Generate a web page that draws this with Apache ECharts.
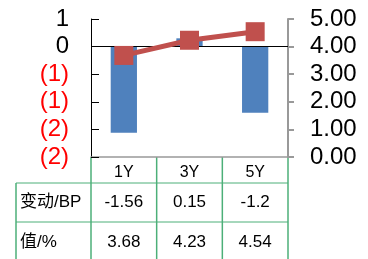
<!DOCTYPE html>
<html>
<head>
<meta charset="utf-8">
<script src="https://cdn.jsdelivr.net/npm/echarts@6/dist/echarts.min.js"></script>
<style>
html, body { margin: 0; padding: 0; background: #fff; }
#main { width: 368px; height: 259px; }
</style>
</head>
<body>
<div id="main"></div>
<script>
var categories = ['1Y', '3Y', '5Y'];
var changeBP = [-1.56, 0.15, -1.2];
var valuePct = [3.68, 4.23, 4.54];
var rowLabels = ['变动/BP', '值/%'];

var FONT = '"Liberation Sans", Arial, "Noto Sans CJK SC", sans-serif';
var GREEN = '#4caf78';

function fmtLeft(v) {
	var r = Math.round(Math.abs(v));
	if (v < 0) {
		return '{neg|(' + r + ')}';
	}
	return String(r);
}

var chart = echarts.init(document.getElementById('main'));
var option = {
	animation: false,
	grid: { left: 91, right: 80, top: 19, bottom: 102 },
	xAxis: [{
		type: 'category',
		data: categories,
		axisLine: { onZero: false, lineStyle: { color: '#999', width: 1.5 } },
		axisTick: { show: false },
		axisLabel: { color: '#000', fontSize: 16, fontFamily: FONT, margin: 8 }
	}],
	yAxis: [{
		type: 'value',
		min: -2,
		max: 0.5,
		interval: 0.5,
		splitLine: { show: false },
		axisLine: { show: true, lineStyle: { color: '#000' } },
		axisTick: { show: true, inside: true, length: 8, lineStyle: { color: '#000' } },
		axisLabel: {
			formatter: fmtLeft,
			color: '#000',
			fontSize: 24,
			fontFamily: FONT,
			margin: 22,
			rich: { neg: { color: '#ff0000', fontSize: 24, fontFamily: FONT } }
		}
	}, {
		type: 'value',
		min: 0,
		max: 5,
		interval: 1,
		splitLine: { show: false },
		axisLine: { show: true, lineStyle: { color: '#999', width: 2 } },
		axisTick: { show: true, length: 6, lineStyle: { color: '#999', width: 2 } },
		axisLabel: {
			formatter: function(v) { return v.toFixed(2); },
			color: '#000',
			fontSize: 24,
			fontFamily: FONT,
			margin: 22
		}
	}],
	series: [{
		name: '变动/BP',
		type: 'bar',
		yAxisIndex: 0,
		data: changeBP,
		barWidth: '40%',
		itemStyle: { color: '#4f81bd' },
		markLine: {
			silent: true,
			symbol: 'none',
			label: { show: false },
			lineStyle: { color: '#000', type: 'solid', width: 1 },
			data: [{ yAxis: 0 }]
		}
	}, {
		name: '值/%',
		type: 'line',
		yAxisIndex: 1,
		data: valuePct,
		symbol: 'rect',
		symbolSize: 19,
		lineStyle: { color: '#c0504d', width: 5 },
		itemStyle: { color: '#c0504d' },
		z: 5
	}]
};
chart.setOption(option);

// table below the plot, placed from the category axis positions
var centers = [];
for (var i = 0; i < categories.length; i++) {
	centers.push(chart.convertToPixel({ xAxisIndex: 0 }, categories[i]));
}
var band = centers[1] - centers[0];
var bounds = [centers[0] - band / 2];
for (var i = 0; i < centers.length; i++) {
	bounds.push(centers[i] + band / 2);
}
var top0 = chart.convertToPixel({ yAxisIndex: 0 }, -2);
var rowY = [top0 + 26, top0 + 65, 262];
var tableLeft = 16;
var rowValues = [changeBP, valuePct];

var els = [];
for (var i = 0; i < bounds.length; i++) {
	els.push({ type: 'line', shape: { x1: bounds[i], y1: top0, x2: bounds[i], y2: 259 }, style: { stroke: GREEN, lineWidth: 1.5 } });
}
els.push({ type: 'line', shape: { x1: tableLeft, y1: rowY[0], x2: tableLeft, y2: 259 }, style: { stroke: GREEN, lineWidth: 1.5 } });
for (var r = 0; r < 2; r++) {
	els.push({ type: 'line', shape: { x1: tableLeft, y1: rowY[r], x2: bounds[bounds.length - 1], y2: rowY[r] }, style: { stroke: GREEN, lineWidth: 1 } });
	var cy = (rowY[r] + rowY[r + 1]) / 2;
	els.push({ type: 'text', x: tableLeft + 4, y: cy, style: { text: rowLabels[r], fill: '#000', font: '17px ' + FONT, textVerticalAlign: 'middle', textAlign: 'left' } });
	for (var c = 0; c < categories.length; c++) {
		els.push({ type: 'text', x: centers[c], y: cy, style: { text: String(rowValues[r][c]), fill: '#000', font: '17px ' + FONT, textVerticalAlign: 'middle', textAlign: 'center' } });
	}
}
chart.setOption({ graphic: els });
</script>
</body>
</html>
